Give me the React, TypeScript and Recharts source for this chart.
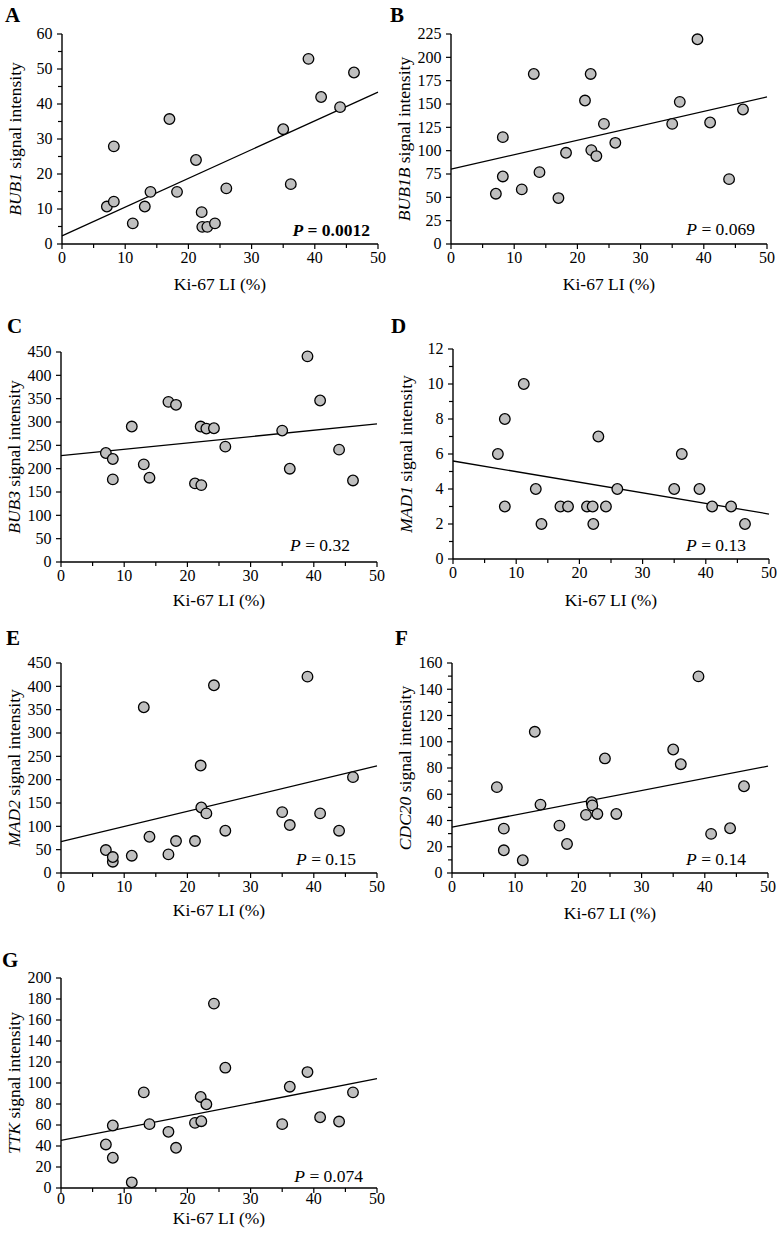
import React from 'react';
import { ScatterChart, Scatter, XAxis, YAxis, Label } from 'recharts';

// ---------- DATA ----------
const ki67 = [7.1, 8.2, 8.2, 11.2, 13.1, 14.0, 17.0, 18.2, 21.2, 22.1, 22.2, 23.0, 24.2, 26.0, 35.0, 36.2, 39.0, 41.0, 44.0, 46.2];

const bub1 = [10.7, 27.9, 12.1, 5.9, 10.7, 14.9, 35.7, 14.9, 24.0, 9.1, 4.9, 4.9, 5.9, 15.9, 32.8, 17.1, 52.9, 42.0, 39.1, 49.0];
const bub1b = [53.9, 114.5, 72.4, 58.5, 182.2, 77.0, 49.2, 97.7, 153.7, 182.2, 100.6, 94.2, 128.7, 108.4, 128.7, 152.3, 219.3, 130.2, 69.5, 144.1];
const bub3 = [233.6, 220.7, 177.0, 290.2, 209.2, 180.6, 343.2, 336.8, 168.4, 290.2, 164.8, 285.9, 286.6, 247.2, 281.6, 199.9, 440.7, 346.1, 240.8, 174.8];
const mad1 = [6, 8, 3, 10, 4, 2, 3, 3, 3, 3, 2, 7, 3, 4, 4, 6, 4, 3, 3, 2];
const mad2 = [49.2, 24.2, 34.2, 37.1, 355.2, 77.7, 39.9, 68.5, 68.5, 230.3, 140.5, 127.7, 402.2, 90.6, 130.5, 102.7, 420.8, 127.7, 90.6, 205.4];
const cdc20 = [65.4, 33.8, 17.3, 9.7, 107.6, 52.1, 36.1, 22.1, 44.3, 53.9, 51.5, 45.0, 87.3, 45.0, 94.1, 82.9, 149.8, 29.8, 34.1, 66.1];
const ttk = [41.5, 59.5, 28.8, 5.4, 91.1, 60.8, 53.5, 38.3, 62.0, 86.7, 63.6, 79.7, 175.6, 114.6, 60.8, 96.5, 110.4, 67.4, 63.3, 91.1];

// regression line end points (value at Ki-67 = 0 and at Ki-67 = 50)
const fitX = [0, 50];
const bub1Fit = [2.3, 43.4];
const bub1bFit = [80.2, 157.6];
const bub3Fit = [227.9, 295.9];
const mad1Fit = [5.6, 2.57];
const mad2Fit = [67.0, 229.6];
const cdc20Fit = [34.9, 81.4];
const ttkFit = [45.3, 104.1];

// axis ticks
const xMajor = [0, 10, 20, 30, 40, 50];
const xMinor = [5, 15, 25, 35, 45];
const bub1Major = [0, 10, 20, 30, 40, 50, 60];
const bub1Minor = [5, 15, 25, 35, 45, 55];
const bub1bMajor = [0, 25, 50, 75, 100, 125, 150, 175, 200, 225];
const bub3Major = [0, 50, 100, 150, 200, 250, 300, 350, 400, 450];
const mad1Major = [0, 2, 4, 6, 8, 10, 12];
const mad1Minor = [1, 3, 5, 7, 9, 11];
const mad2Major = [0, 50, 100, 150, 200, 250, 300, 350, 400, 450];
const cdc20Major = [0, 20, 40, 60, 80, 100, 120, 140, 160];
const cdc20Minor = [10, 30, 50, 70, 90, 110, 130, 150];
const ttkMajor = [0, 20, 40, 60, 80, 100, 120, 140, 160, 180, 200];

// panel text
const letters = ['A', 'B', 'C', 'D', 'E', 'F', 'G'];
const genes = ['BUB1', 'BUB1B', 'BUB3', 'MAD1', 'MAD2', 'CDC20', 'TTK'];
const pValues = ['0.0012', '0.069', '0.32', '0.13', '0.15', '0.14', '0.074'];
const xTitle = 'Ki-67 LI (%)';

// ---------- LAYOUT ----------
const FONT = '"Liberation Serif", "Times New Roman", Times, serif';
const PW = 316;
const PH = 210;
const OFF_X = 62;
const OFF_Y = 34;
const CW = 390;
const CH = 300;

type PanelCfg = {
  values: number[];
  fit: number[];
  yMax: number;
  major: number[];
  minor: number[];
  plotX: number;
  plotY: number;
  pRight: number;
  pBase: number;
  letterX: number;
  letterY: number;
  titleDy: number;
  tickDy: number;
  bold: boolean;
};

const panels: PanelCfg[] = [
  { values: bub1, fit: bub1Fit, yMax: 60, major: bub1Major, minor: bub1Minor, plotX: 62, plotY: 34, pRight: 370, pBase: 236, letterX: 5, letterY: 22, titleDy: 46, tickDy: 19, bold: true },
  { values: bub1b, fit: bub1bFit, yMax: 225, major: bub1bMajor, minor: [], plotX: 451, plotY: 34, pRight: 755, pBase: 235, letterX: 390, letterY: 22, titleDy: 46, tickDy: 19, bold: false },
  { values: bub3, fit: bub3Fit, yMax: 450, major: bub3Major, minor: [], plotX: 61, plotY: 352, pRight: 350, pBase: 551, letterX: 7, letterY: 333, titleDy: 44, tickDy: 19, bold: false },
  { values: mad1, fit: mad1Fit, yMax: 12, major: mad1Major, minor: mad1Minor, plotX: 453, plotY: 349, pRight: 746, pBase: 551, letterX: 391, letterY: 333, titleDy: 47, tickDy: 19, bold: false },
  { values: mad2, fit: mad2Fit, yMax: 450, major: mad2Major, minor: [], plotX: 61, plotY: 663, pRight: 356, pBase: 865, letterX: 6, letterY: 645, titleDy: 43, tickDy: 19, bold: false },
  { values: cdc20, fit: cdc20Fit, yMax: 160, major: cdc20Major, minor: cdc20Minor, plotX: 452, plotY: 663, pRight: 746, pBase: 865, letterX: 395, letterY: 645, titleDy: 46, tickDy: 19, bold: false },
  { values: ttk, fit: ttkFit, yMax: 200, major: ttkMajor, minor: [], plotX: 61, plotY: 978, pRight: 363, pBase: 1182, letterX: 2, letterY: 967, titleDy: 35.5, tickDy: 16, bold: false },
];

const TICK_FS = 16;
const TITLE_FS = 17.5;

const makeYTick = (major: number[]) => (props: any) => {
  const { x, y, payload } = props;
  const v = payload.value;
  const isMajor = major.includes(v);
  return (
    <g>
      <line x1={x - (isMajor ? 5 : 4)} x2={x} y1={y} y2={y} stroke="#000" strokeWidth={1.2} />
      {isMajor && (
        <text x={x - 9.5} y={y} dy="0.34em" textAnchor="end" fontSize={TICK_FS} fontFamily={FONT} fill="#000">
          {v}
        </text>
      )}
    </g>
  );
};

const makeXTick = (tickDy: number) => (props: any) => {
  const { x, y, payload } = props;
  const v = payload.value;
  const isMajor = xMajor.includes(v);
  return (
    <g>
      <line x1={x} x2={x} y1={y} y2={y + (isMajor ? 5 : 4)} stroke="#000" strokeWidth={1.2} />
      {isMajor && (
        <text x={x} y={y + tickDy} textAnchor="middle" fontSize={TICK_FS} fontFamily={FONT} fill="#000">
          {v}
        </text>
      )}
    </g>
  );
};

const Dot = (props: any) => {
  const { cx, cy } = props;
  if (cx == null || cy == null) return <g />;
  return <circle cx={cx} cy={cy} r={5.3} fill="#bfbfbf" stroke="#000" strokeWidth={1.3} />;
};

const Empty = () => <g />;

function Panel({ cfg, gene }: { cfg: PanelCfg; gene: string }) {
  const pts = ki67.map((x, i) => ({ x, y: cfg.values[i] }));
  const fitPts = fitX.map((x, i) => ({ x, y: cfg.fit[i] }));
  const yTicks = [...cfg.major, ...cfg.minor].sort((a, b) => a - b);
  const xTicks = [...xMajor, ...xMinor].sort((a, b) => a - b);
  return (
    <div style={{ position: 'absolute', left: cfg.plotX - OFF_X, top: cfg.plotY - OFF_Y, width: CW, height: CH }}>
      <ScatterChart width={CW} height={CH} margin={{ top: OFF_Y, right: CW - OFF_X - PW, bottom: 0, left: 0 }}>
        <XAxis
          type="number"
          dataKey="x"
          domain={[0, 50]}
          ticks={xTicks}
          interval={0}
          allowDecimals
          tickLine={false}
          tickSize={0}
          tickMargin={0}
          height={CH - OFF_Y - PH}
          axisLine={{ stroke: '#000', strokeWidth: 1.4 }}
          tick={makeXTick(cfg.tickDy)}
        >
          <Label
            content={(p: any) => {
              const vb = p.viewBox || {};
              return (
                <text x={vb.x + vb.width / 2} y={vb.y + cfg.titleDy} textAnchor="middle" fontSize={TITLE_FS} fontFamily={FONT} fill="#000">
                  {xTitle}
                </text>
              );
            }}
          />
        </XAxis>
        <YAxis
          type="number"
          dataKey="y"
          domain={[0, cfg.yMax]}
          ticks={yTicks}
          interval={0}
          allowDecimals
          tickLine={false}
          tickSize={0}
          tickMargin={0}
          width={OFF_X}
          axisLine={{ stroke: '#000', strokeWidth: 1.4 }}
          tick={makeYTick(cfg.major)}
        >
          <Label
            content={(p: any) => {
              const vb = p.viewBox || {};
              const cx = vb.x + vb.width - 41;
              const cy = vb.y + vb.height / 2;
              return (
                <text x={cx} y={cy} transform={`rotate(-90 ${cx} ${cy})`} textAnchor="middle" fontSize={TITLE_FS} fontFamily={FONT} fill="#000">
                  <tspan fontStyle="italic">{gene}</tspan>
                  {' signal intensity'}
                </text>
              );
            }}
          />
        </YAxis>
        <Scatter data={fitPts} line={{ stroke: '#000', strokeWidth: 1.3 }} shape={Empty} isAnimationActive={false} legendType="none" />
        <Scatter data={pts} shape={Dot} isAnimationActive={false} />
      </ScatterChart>
    </div>
  );
}

export default function App() {
  return (
    <div style={{ position: 'absolute', left: 0, top: 0, width: 777, height: 1233, background: '#fff', overflow: 'hidden' }}>
      {panels.map((cfg, i) => (
        <Panel key={i} cfg={cfg} gene={genes[i]} />
      ))}
      <svg width={777} height={1233} style={{ position: 'absolute', left: 0, top: 0, pointerEvents: 'none' }}>
        {panels.map((cfg, i) => (
          <g key={i}>
            <text x={cfg.letterX} y={cfg.letterY} fontSize={21} fontWeight="bold" fontFamily={FONT} fill="#000">
              {letters[i]}
            </text>
            <text
              x={cfg.pRight}
              y={cfg.pBase}
              textAnchor="end"
              fontSize={TITLE_FS}
              fontFamily={FONT}
              fontWeight={cfg.bold ? 'bold' : 'normal'}
              fill="#000"
            >
              <tspan fontStyle="italic">P</tspan>
              {' = ' + pValues[i]}
            </text>
          </g>
        ))}
      </svg>
    </div>
  );
}
